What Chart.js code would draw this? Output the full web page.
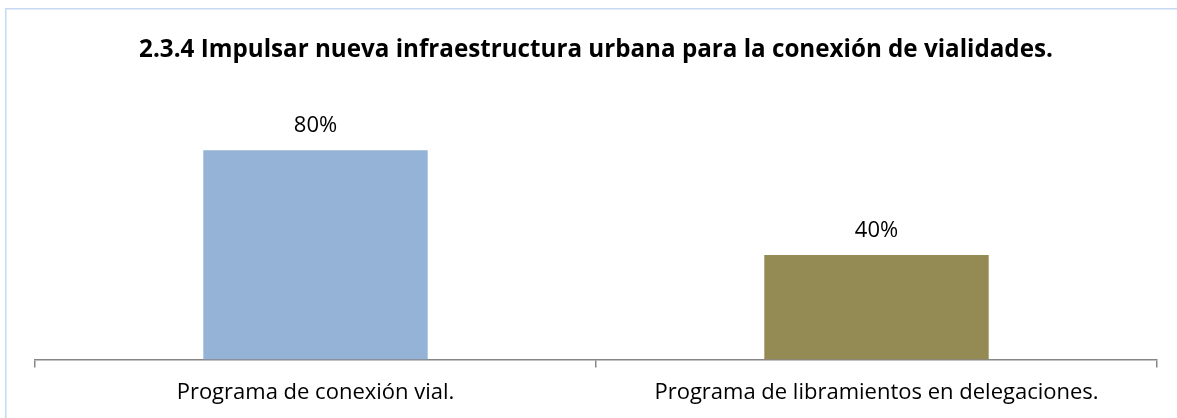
<!DOCTYPE html>
<html>
<head>
<meta charset="utf-8">
<script src="https://cdn.jsdelivr.net/npm/chart.js@4/dist/chart.umd.min.js"></script>
<style>
html,body{margin:0;padding:0;background:#fff;overflow:hidden;width:1177px;height:418px;}
canvas{display:block;}
</style>
</head>
<body>
<canvas id="c" width="1177" height="418"></canvas>
<script>
const categories = ["Programa de conexión vial.", "Programa de libramientos en delegaciones."];
const values = [80, 40];
const valueLabels = ["80%", "40%"];
const barColors = ["#95b3d7", "#948a54"];
const titleText = "2.3.4 Impulsar nueva infraestructura urbana para la conexión de vialidades.";

const FONT = "'Open Sans', sans-serif";

const framePlugin = {
  id: 'frame',
  beforeDraw(chart) {
    const ctx = chart.ctx;
    ctx.save();
    ctx.fillStyle = "#fff";
    ctx.fillRect(0, 0, chart.width, chart.height);
    ctx.strokeStyle = "#c6d9f1";
    ctx.lineWidth = 1.5;
    ctx.strokeRect(5.75, 8.75, 1400, 600);
    ctx.restore();
  }
};

const labelPlugin = {
  id: 'valueLabels',
  afterDatasetsDraw(chart) {
    const ctx = chart.ctx;
    const meta = chart.getDatasetMeta(0);
    ctx.save();
    ctx.font = "22px " + FONT;
    ctx.fillStyle = "#000";
    ctx.textAlign = "center";
    ctx.textBaseline = "alphabetic";
    meta.data.forEach((bar, i) => {
      ctx.fillText(valueLabels[i], bar.x, bar.y - 18);
    });
    ctx.restore();
  }
};

new Chart(document.getElementById('c'), {
  type: 'bar',
  data: {
    labels: categories,
    datasets: [{
      data: values,
      backgroundColor: barColors,
      borderWidth: 0,
      categoryPercentage: 0.8,
      barPercentage: 0.5
    }]
  },
  options: {
    responsive: false,
    animation: false,
    layout: { padding: { left: 35, right: 20, top: 0, bottom: 0 } },
    plugins: {
      legend: { display: false },
      tooltip: { enabled: false },
      title: {
        display: true,
        text: titleText,
        color: "#000",
        font: { family: FONT, size: 24.2, weight: 'bold', lineHeight: 1.2 },
        padding: { top: 36, bottom: 33 }
      }
    },
    scales: {
      x: {
        offset: true,
        grid: { display: true, drawOnChartArea: false, drawTicks: true, tickLength: 8, color: "#868686", lineWidth: 1.5, offset: true },
        border: { display: true, color: "#868686", width: 1.5 },
        ticks: { color: "#000", font: { family: FONT, size: 22, lineHeight: 1.2 }, padding: 12, maxRotation: 0 }
      },
      y: {
        display: false,
        min: 0,
        max: 100
      }
    }
  },
  plugins: [framePlugin, labelPlugin]
});
</script>
</body>
</html>
